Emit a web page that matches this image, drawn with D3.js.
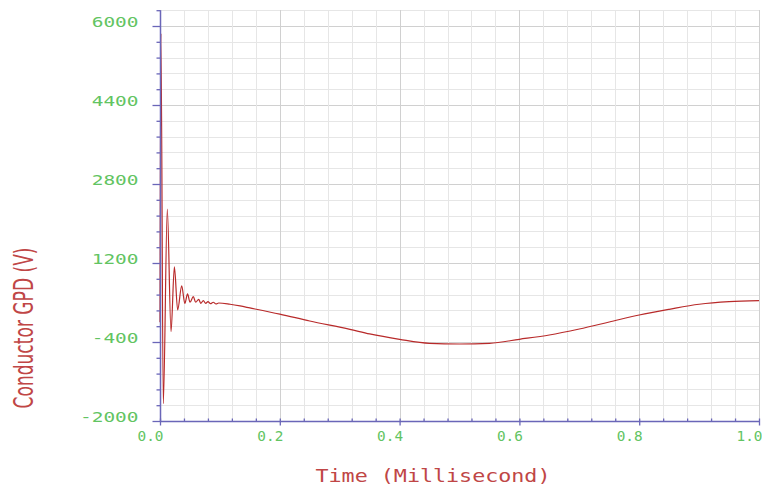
<!DOCTYPE html>
<html>
<head>
<meta charset="utf-8">
<script src="https://cdn.jsdelivr.net/npm/d3@7"></script>
<style>
html,body{margin:0;padding:0;background:#fff;}
svg{display:block;}
</style>
</head>
<body>
<svg id="chart" width="762" height="489"></svg>
<script>
// ---- data ----
const timeMs = [0.000, 0.0015, 0.0055, 0.0122, 0.0184, 0.0240, 0.0295, 0.0362, 0.0415, 0.0460,
  0.0501, 0.0556, 0.0596, 0.0646, 0.0680, 0.0723, 0.0763, 0.0801, 0.0843, 0.0890, 0.0935, 0.0980,
  0.1169, 0.1336, 0.1500, 0.2000, 0.2500, 0.3170, 0.3500, 0.4000, 0.4500, 0.5000, 0.5500, 0.6000,
  0.6500, 0.7000, 0.7500, 0.8000, 0.8500, 0.9000, 0.9500, 1.0000];
const voltage = [0, 5850, -1650, 2290, -190, 1120, 250, 735, 380, 573,
  405, 518, 405, 465, 384, 437, 384, 417, 376, 405, 370, 390,
  364, 330, 290, 165, 26, -143, -237, -345, -426, -440, -426, -345,
  -258, -136, 5, 147, 262, 364, 417, 437];
const xTickValues = [0, 0.2, 0.4, 0.6, 0.8, 1.0];
const xTickLabels = ["0.0", "0.2", "0.4", "0.6", "0.8", "1.0"];
const yTickValues = [-2000, -400, 1200, 2800, 4400, 6000];
const yTickLabels = ["-2000", "-400", "1200", "2800", "4400", "6000"];
const xMinorStep = 0.04;
const yMinorStep = 320;
const yTop = 6320;
const xTitle = "Time (Millisecond)";
const yTitle = "Conductor GPD (V)";

// ---- layout ----
const svg = d3.select("#chart");
const x = d3.scaleLinear().domain([0, 1]).range([160, 759]);
const y = d3.scaleLinear().domain([-2000, 6000]).range([421, 26]);

const xMinor = d3.range(0, 1 + 1e-9, xMinorStep);
const yMinor = d3.range(-2000, yTop + 1e-9, yMinorStep);
const isMajorX = v => xTickValues.some(t => Math.abs(t - v) < 1e-6);
const isMajorY = v => yTickValues.some(t => Math.abs(t - v) < 1e-6);

// grid
const grid = svg.append("g").attr("shape-rendering", "crispEdges");
grid.selectAll("line.gy").data(yMinor).join("line")
  .attr("x1", x(0)).attr("x2", x(1))
  .attr("y1", d => Math.round(y(d)) + 0.5).attr("y2", d => Math.round(y(d)) + 0.5)
  .attr("stroke", d => isMajorY(d) ? "#d0d0d0" : "#e6e6e6").attr("stroke-width", 1.2);
grid.selectAll("line.gx").data(xMinor).join("line")
  .attr("y1", y(yTop)).attr("y2", y(-2000))
  .attr("x1", d => Math.round(x(d)) + 0.5).attr("x2", d => Math.round(x(d)) + 0.5)
  .attr("stroke", d => isMajorX(d) ? "#d0d0d0" : "#e6e6e6").attr("stroke-width", 1.2);

// curve
const line = d3.line().curve(d3.curveMonotoneX)
  .x((d, i) => x(timeMs[i])).y((d, i) => y(voltage[i]));
svg.append("path").datum(voltage)
  .attr("d", line)
  .attr("fill", "none").attr("stroke", "#b82a2a").attr("stroke-width", 1.2)
  .attr("stroke-linejoin", "round");

const axisColor = "#6a66b8";
const labelFont = "DejaVu Sans Mono";
// y axis ticks via d3 axis
const yAxisMinor = d3.axisLeft(y).tickValues(yMinor.filter(v => !isMajorY(v))).tickSize(4).tickSizeOuter(0).tickFormat("");
const yAxisMajor = d3.axisLeft(y).tickValues(yTickValues).tickSize(8).tickSizeOuter(0)
  .tickFormat((d, i) => yTickLabels[i]);
const gy1 = svg.append("g").attr("transform", "translate(160.5,0)").call(yAxisMinor);
const gy2 = svg.append("g").attr("transform", "translate(160.5,0)").call(yAxisMajor);
[gy1, gy2].forEach(g => {
  g.select(".domain").remove();
  g.selectAll(".tick line").attr("stroke", axisColor).attr("stroke-width", 1.3);
});
gy2.selectAll(".tick text")
  .attr("x", -22).attr("dy", "0").attr("y", 0)
  .attr("fill", "#62c462").attr("font-family", labelFont).attr("font-size", 14)
  .attr("text-anchor", "end")
  .attr("textLength", d => yTickLabels[yTickValues.indexOf(d)].length * 11.7)
  .attr("lengthAdjust", "spacingAndGlyphs");

// x axis
const xAxisMinor = d3.axisBottom(x).tickValues(xMinor.filter(v => !isMajorX(v))).tickSize(-3).tickSizeOuter(0).tickFormat("");
const xAxisMajor = d3.axisBottom(x).tickValues(xTickValues).tickSize(4).tickSizeOuter(0)
  .tickFormat((d, i) => xTickLabels[i]);
const gx1 = svg.append("g").attr("transform", "translate(0,421.5)").call(xAxisMinor);
const gx2 = svg.append("g").attr("transform", "translate(0,421.5)").call(xAxisMajor);
[gx1, gx2].forEach(g => {
  g.select(".domain").remove();
  g.selectAll(".tick line").attr("stroke", axisColor).attr("stroke-width", 1.3);
});
gx2.selectAll(".tick line").attr("y1", -3);
gx2.selectAll(".tick text")
  .attr("x", -10).attr("y", 19.5).attr("dy", "0")
  .attr("fill", "#62c462").attr("font-family", labelFont).attr("font-size", 14)
  .attr("text-anchor", "middle")
  .attr("textLength", 26).attr("lengthAdjust", "spacingAndGlyphs");

// axis lines
svg.append("line").attr("x1", 160.5).attr("x2", 160.5).attr("y1", y(yTop)).attr("y2", y(-2000))
  .attr("stroke", axisColor).attr("stroke-width", 1.5);
svg.append("line").attr("x1", x(0)).attr("x2", x(1)).attr("y1", 421.5).attr("y2", 421.5)
  .attr("stroke", axisColor).attr("stroke-width", 1.5);

// titles
svg.append("text").text(xTitle)
  .attr("x", 433).attr("y", 481.5).attr("text-anchor", "middle")
  .attr("fill", "#c04646").attr("font-family", labelFont).attr("font-size", 18)
  .attr("textLength", 235).attr("lengthAdjust", "spacingAndGlyphs");
svg.append("text").text(yTitle)
  .attr("transform", "translate(33,328) rotate(-90)").attr("text-anchor", "middle")
  .attr("fill", "#c04646").attr("font-family", "DejaVu Sans").attr("font-size", 27)
  .attr("textLength", 161).attr("lengthAdjust", "spacingAndGlyphs");
</script>
</body>
</html>
